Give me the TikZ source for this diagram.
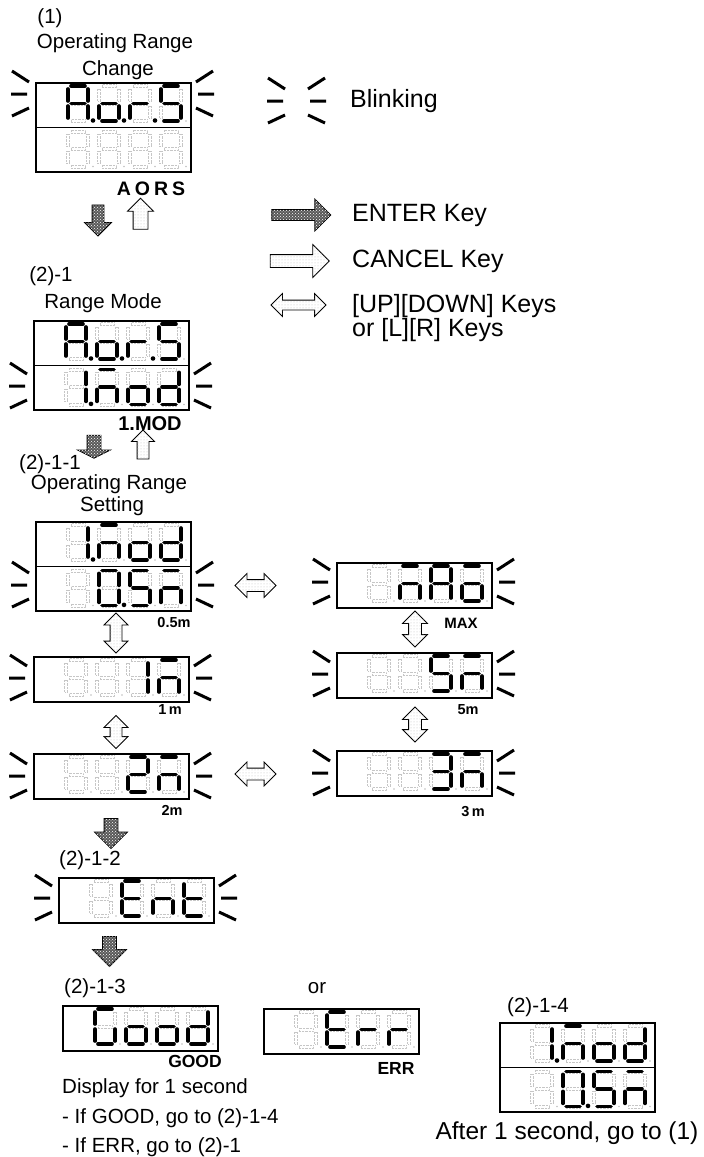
\documentclass[tikz,border=0pt]{standalone}
\usepackage{fontspec}
\setmainfont{Liberation Sans}
\usetikzlibrary{shapes.arrows,patterns}

\def\sga{(3,0) -- (17,0)}
\def\sgb{(20,3) -- (20,15)}
\def\sgc{(20,20) -- (20,32)}
\def\sgd{(3,35) -- (17,35)}
\def\sge{(0,20) -- (0,32)}
\def\sgf{(0,3) -- (0,15)}
\def\sgg{(3,17.5) -- (17,17.5)}
\def\sgx{(0,0)}
\def\gha{(3,-1.4) rectangle (17,1.4)}
\def\ghb{(18.6,3) rectangle (21.4,15)}
\def\ghc{(18.6,20) rectangle (21.4,32)}
\def\ghd{(3,33.6) rectangle (17,36.4)}
\def\ghe{(-1.4,20) rectangle (1.4,32)}
\def\ghf{(-1.4,3) rectangle (1.4,15)}
\def\ghg{(3,16.1) rectangle (17,18.9)}

\newcommand{\segdigit}[4]{%
  \begin{scope}[shift={(#1)},shift={(#2,4)}]
    \foreach \sgn in {a,b,c,d,e,f,g} \draw[seg off] \csname gh\sgn\endcsname;
    \fill[gray!50] (25,35) circle (0.9);
    \foreach \sgn in {#3} \draw[seg on] \csname sg\sgn\endcsname;
    \ifnum#4=1 \fill (25,34.5) circle (2.3);\fi
  \end{scope}}
\newcommand{\lcdrow}[9]{%
  \segdigit{#1}{33}{#2}{#3}%
  \segdigit{#1}{64}{#4}{#5}%
  \segdigit{#1}{95}{#6}{#7}%
  \segdigit{#1}{126}{#8}{#9}}

\begin{document}
\begin{tikzpicture}[x=1pt,y=-1pt,
  lcd/.style={draw,line width=1.8pt,minimum width=155pt,minimum height=45pt,anchor=north west,inner sep=0pt},
  lcd2/.style={lcd,minimum height=89pt},
  seg on/.style={line width=3.6pt,line cap=round},
  seg off/.style={draw=gray!45,line width=0.4pt,densely dotted},
  blink/.style={line width=3pt},
  blink left/.pic={\draw[blink] (-23,-23) -- (-6,-12) (-24,0) -- (-8,0) (-23,22) -- (-6,14);},
  blink right/.pic={\draw[blink] (6,-12) -- (23,-23) (8,0) -- (24,0) (6,14) -- (23,22);},
  txt/.style={font=\fontsize{20.5}{24}\selectfont,inner sep=0pt},
  big/.style={font=\fontsize{25}{28}\selectfont,inner sep=0pt,anchor=west},
  tagb/.style={font=\bfseries\fontsize{#1}{#1}\selectfont,inner sep=0pt},
  enter/.style={single arrow,draw,line width=0.8pt,fill=black!65,postaction={pattern=crosshatch dots,pattern color=white},inner xsep=0pt},
  cancel/.style={single arrow,draw,line width=0.8pt,fill=white,postaction={pattern=dots,pattern color=gray!50},inner xsep=0pt},
  updown/.style={double arrow,draw,line width=0.8pt,fill=white,postaction={pattern=dots,pattern color=gray!50},inner xsep=0pt}]
\useasboundingbox (0,0) rectangle (704,1157);

\node[txt] (n1) at (50,18) {(1)};
\node[txt] (opr1) at (115,43) {Operating Range};
\node[txt] (chg1) at (118,70) {Change};
\node[lcd2] (chg) at (35,82) {};
\draw[line width=1.8pt] (chg.west) -- (chg.east);
\lcdrow{chg.north west}{a,b,c,e,f,g}{1}{c,d,e,g}{1}{e,g}{1}{a,f,g,c,d}{0}
\lcdrow{chg.west}{x}{0}{x}{0}{x}{0}{x}{0}
\pic at (35,94) {blink left};
\pic at (190,94) {blink right};
\node[tagb=19.5] (aors) at (151,189) {A\kern4pt O\kern4pt R\kern4pt S};
\node[enter,minimum height=31pt,inner ysep=5.5pt,single arrow head extend=7.5pt,rotate=-90] (e1) at (98,217.5) {};
\node[cancel,minimum height=31pt,inner ysep=7pt,single arrow head extend=5.5pt,rotate=90] (c1) at (140.5,217.5) {};

\pic at (291,101) {blink left};
\pic at (302,101) {blink right};
\node[big] (blk) at (350,101) {Blinking};
\node[enter,minimum height=59pt,inner ysep=5pt,single arrow head extend=10.5pt] (ekey) at (298.5,215) {};
\node[big] (etxt) at (352,215) {ENTER Key};
\node[cancel,minimum height=59pt,inner ysep=6pt,single arrow head extend=10pt] (ckey) at (296.5,261) {};
\node[big] (ctxt) at (352,261) {CANCEL Key};
\node[updown,minimum height=55pt,inner ysep=4.5pt,double arrow head extend=6.5pt] (ukey) at (298.5,305) {};
\node[big] (utxt) at (352,306) {[UP][DOWN] Keys};
\node[big] (otxt) at (352,330) {or [L][R] Keys};

\node[txt] (n21) at (51,276) {(2)-1};
\node[txt] (rmode) at (103,303) {Range Mode};
\node[lcd2] (mode) at (33,320) {};
\draw[line width=1.8pt] (mode.west) -- (mode.east);
\lcdrow{mode.north west}{a,b,c,e,f,g}{1}{c,d,e,g}{1}{e,g}{1}{a,f,g,c,d}{0}
\lcdrow{mode.west}{b,c}{1}{a,c,e,g}{0}{c,d,e,g}{0}{b,c,d,e,g}{0}
\pic at (33,386) {blink left};
\pic at (188,386) {blink right};
\node[tagb=20] (mod) at (150,424) {1.MOD};
\node[enter,minimum height=23pt,inner ysep=6.5pt,single arrow head extend=9.5pt,single arrow tip angle=127,rotate=-90] (e2) at (94,445) {};
\node[cancel,minimum height=29pt,inner ysep=5.5pt,single arrow head extend=5.5pt,rotate=90] (c2) at (143,447.5) {};

\node[txt] (n211) at (50,464) {(2)-1-1};
\node[txt] (opr2) at (109,484) {Operating Range};
\node[txt] (sett) at (112,506) {Setting};
\node[lcd2] (m05) at (35,521) {};
\draw[line width=1.8pt] (m05.west) -- (m05.east);
\lcdrow{m05.north west}{b,c}{1}{a,c,e,g}{0}{c,d,e,g}{0}{b,c,d,e,g}{0}
\lcdrow{m05.west}{x}{0}{a,b,c,d,e,f}{1}{a,f,g,c,d}{0}{a,c,e,g}{0}
\pic at (35,585) {blink left};
\pic at (190,585) {blink right};
\node[tagb=14.5] (u05) at (174,622) {0.5m};
\node[updown,minimum height=40pt,inner ysep=5.5pt,double arrow head extend=6pt,rotate=90] (ud1) at (116,633) {};
\node[lcd] (m1) at (33,656) {};
\lcdrow{m1.north west}{x}{0}{x}{0}{b,c}{0}{a,c,e,g}{0}
\pic at (33,678) {blink left};
\pic at (188,678) {blink right};
\node[tagb=14.5] (u1) at (170,710) {1\,m};
\node[updown,minimum height=33pt,inner ysep=5.5pt,double arrow head extend=6pt,rotate=90] (ud2) at (116,732) {};
\node[lcd] (m2) at (33,753) {};
\lcdrow{m2.north west}{x}{0}{x}{0}{a,b,g,e,d}{0}{a,c,e,g}{0}
\pic at (33,776) {blink left};
\pic at (188,776) {blink right};
\node[tagb=14.5] (u2) at (172,810) {2m};
\node[updown,minimum height=41pt,inner ysep=5.5pt,double arrow head extend=6pt] (hd1) at (255.5,585.5) {};
\node[updown,minimum height=41pt,inner ysep=5.5pt,double arrow head extend=6pt] (hd2) at (255.5,774) {};

\node[lcd] (mx) at (336,562) {};
\lcdrow{mx.north west}{x}{0}{a,c,e,g}{0}{a,b,c,e,f,g}{0}{a,c,d,e,g}{0}
\pic at (336,582) {blink left};
\pic at (491,582) {blink right};
\node[tagb=15] (umx) at (461,623) {MAX};
\node[updown,minimum height=36pt,inner ysep=6pt,double arrow head extend=6pt,rotate=90] (ud3) at (415,629) {};
\node[lcd] (m5) at (336,652) {};
\lcdrow{m5.north west}{x}{0}{x}{0}{a,f,g,c,d}{0}{a,c,e,g}{0}
\pic at (336,674) {blink left};
\pic at (491,674) {blink right};
\node[tagb=14.5] (u5) at (468,710) {5m};
\node[updown,minimum height=35pt,inner ysep=6pt,double arrow head extend=6pt,rotate=90] (ud4) at (415,724.5) {};
\node[lcd] (m3) at (336,750) {};
\lcdrow{m3.north west}{x}{0}{x}{0}{a,b,g,c,d}{0}{a,c,e,g}{0}
\pic at (336,773) {blink left};
\pic at (491,773) {blink right};
\node[tagb=14.5] (u3) at (473,812) {3\,m};

\node[enter,minimum height=30pt,inner ysep=6.5pt,single arrow head extend=9.5pt,rotate=-90] (e3) at (111,830) {};
\node[txt] (n212) at (90,860) {(2)-1-2};
\node[lcd] (ent) at (58,877) {};
\lcdrow{ent.north west}{x}{0}{a,f,g,e,d}{0}{c,e,g}{0}{f,g,e,d}{0}
\pic at (58,898) {blink left};
\pic at (213,898) {blink right};
\node[enter,minimum height=30pt,inner ysep=6.5pt,single arrow head extend=10pt,rotate=-90] (e4) at (109.5,948) {};

\node[txt] (n213) at (95,988) {(2)-1-3};
\node[txt] (or) at (317,988) {or};
\node[lcd] (good) at (62,1005) {};
\lcdrow{good.north west}{a,f,e,d,c}{0}{c,d,e,g}{0}{c,d,e,g}{0}{b,c,d,e,g}{0}
\node[tagb=17.5] (gd) at (195,1061) {GOOD};
\node[lcd] (err) at (263,1008) {};
\lcdrow{err.north west}{x}{0}{a,f,g,e,d}{0}{e,g}{0}{e,g}{0}
\node[tagb=17.5] (er) at (396,1068) {ERR};
\node[txt,anchor=west] (dsp) at (62,1088) {Display for 1 second};
\node[txt,anchor=west] (ifg) at (62,1118) {- If GOOD, go to (2)-1-4};
\node[txt,anchor=west] (ife) at (62,1147) {- If ERR, go to (2)-1};

\node[txt] (n214) at (538,1007) {(2)-1-4};
\node[lcd2] (fin) at (499,1022) {};
\draw[line width=1.8pt] (fin.west) -- (fin.east);
\lcdrow{fin.north west}{b,c}{1}{a,c,e,g}{0}{c,d,e,g}{0}{b,c,d,e,g}{0}
\lcdrow{fin.west}{x}{0}{a,b,c,d,e,f}{1}{a,f,g,c,d}{0}{a,c,e,g}{0}
\node[txt,font=\fontsize{24.5}{28}\selectfont] (aft) at (567,1133) {After 1 second, go to (1)};
\end{tikzpicture}
\end{document}
